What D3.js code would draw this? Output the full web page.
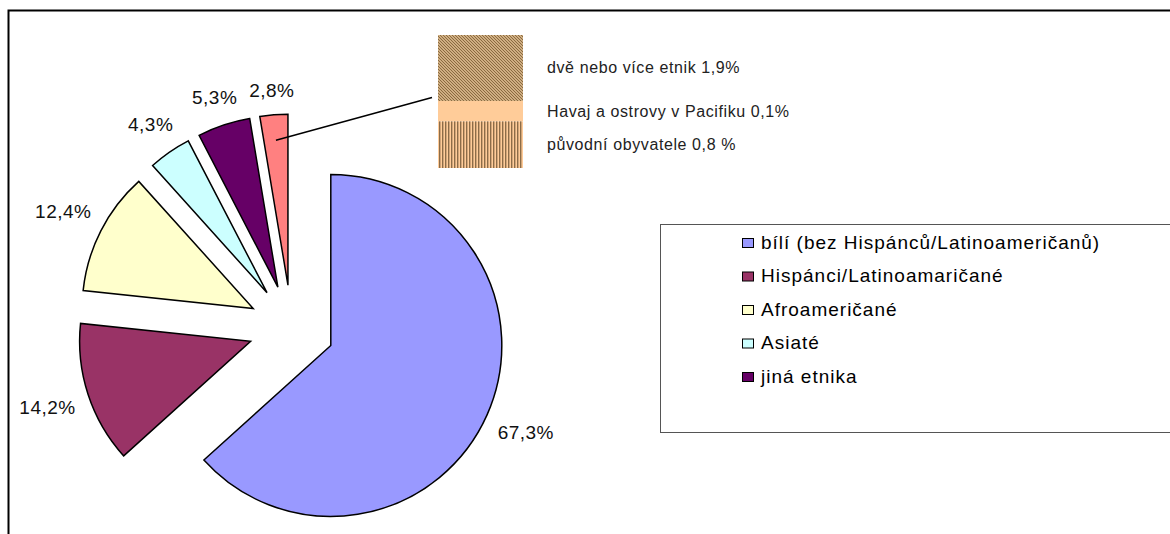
<!DOCTYPE html>
<html>
<head>
<meta charset="utf-8">
<script src="https://cdn.jsdelivr.net/npm/d3@7"></script>
<style>
  html, body { margin: 0; padding: 0; background: #fff; }
  svg { display: block; font-family: "Liberation Sans", Arial, sans-serif; }
</style>
</head>
<body>
<svg id="chart" width="1170" height="534"></svg>
<script>
// pie slices, clockwise from 12 o'clock (labels sum to more than 100, the pie normalises)
var sliceNames = ['bílí (bez Hispánců/Latinoameričanů)', 'Hispánci/Latinoamaričané', 'Afroameričané', 'Asiaté', 'jiná etnika', 'ostatní'];
var sliceValues = [67.3, 14.2, 12.4, 4.3, 5.3, 2.8];
var sliceLabels = ['67,3%', '14,2%', '12,4%', '4,3%', '5,3%', '2,8%'];
var sliceColors = ['#9999ff', '#993366', '#ffffcc', '#ccffff', '#660066', '#ff8080'];

// breakdown of the last slice, shown as a stacked bar
var barNames = ['dvě nebo více etnik 1,9%', 'Havaj a ostrovy v Pacifiku 0,1%', 'původní obyvatele 0,8 %'];
var barValues = [1.9, 0.1, 0.8];
var barFills = ['url(#diag)', '#ffcc99', 'url(#vert)'];

var legendCount = 5;

var svg = d3.select('#chart');
var W = 1170, H = 534;

// ---- patterns
var defs = svg.append('defs');
var diag = defs.append('pattern').attr('id', 'diag')
    .attr('patternUnits', 'userSpaceOnUse').attr('width', 3).attr('height', 3);
diag.append('rect').attr('width', 3).attr('height', 3).attr('fill', '#cfae82');
diag.append('path').attr('d', 'M-1,-1L4,4M-1,2L1,4M2,-1L4,1')
    .attr('stroke', '#8a6a40').attr('stroke-width', 1);

var vert = defs.append('pattern').attr('id', 'vert')
    .attr('patternUnits', 'userSpaceOnUse').attr('width', 3).attr('height', 3);
vert.append('rect').attr('width', 3).attr('height', 3).attr('fill', '#ffcc99');
vert.append('rect').attr('x', 1).attr('width', 1.4).attr('height', 3).attr('fill', '#8c6c48');

// ---- frame
svg.append('path')
    .attr('d', 'M8.5,' + H + 'V10.5H' + W)
    .attr('fill', 'none').attr('stroke', '#000').attr('stroke-width', 2);

// ---- pie
var cx = 291.5, cy = 328, R = 171, explode = 43, labelGap = 13;

var pie = d3.pie().sort(null).value(function(d) { return d; });
var arcs = pie(sliceValues);
var arc = d3.arc().innerRadius(0).outerRadius(R);

function dir(a) {
    var m = (a.startAngle + a.endAngle) / 2;
    return [Math.sin(m), -Math.cos(m)];
}

var gPie = svg.append('g').attr('transform', 'translate(' + cx + ',' + cy + ')');

gPie.selectAll('path.slice')
    .data(arcs)
    .join('path')
    .attr('class', 'slice')
    .attr('transform', function(d) { var u = dir(d); return 'translate(' + (u[0] * explode) + ',' + (u[1] * explode) + ')'; })
    .attr('d', arc)
    .attr('fill', function(d, i) { return sliceColors[i]; })
    .attr('stroke', '#000')
    .attr('stroke-width', 1.5)
    .attr('stroke-linejoin', 'miter');

gPie.selectAll('text.pct')
    .data(arcs)
    .join('text')
    .attr('class', 'pct')
    .attr('font-size', 19)
    .attr('letter-spacing', 0.5)
    .attr('fill', '#111')
    .attr('text-anchor', 'middle')
    .attr('dominant-baseline', 'central')
    .text(function(d, i) { return sliceLabels[i]; })
    .each(function(d) {
        var u = dir(d);
        var w = this.getComputedTextLength();
        var ext = Math.abs(u[0]) * w / 2 + Math.abs(u[1]) * 9;
        var rr = explode + R + labelGap + ext;
        d3.select(this).attr('x', u[0] * rr).attr('y', u[1] * rr);
    });

// ---- stacked bar of the "other" slice
var barX = 438, barW = 85, barTop = 35, barH = 133;
var seg = d3.scalePow().exponent(0.4).domain([0, 1]).range([0, 1]);
var segSizes = barValues.map(function(v) { return seg(v); });
var segTotal = d3.sum(segSizes);
var y = d3.scaleLinear().domain([0, segTotal]).range([barTop, barTop + barH]);
var acc = 0;
var segs = segSizes.map(function(s, i) {
    var o = { i: i, y0: acc, y1: acc + s };
    acc += s;
    return o;
});

var gBar = svg.append('g');
gBar.selectAll('rect')
    .data(segs)
    .join('rect')
    .attr('x', barX)
    .attr('width', barW)
    .attr('y', function(d) { return y(d.y0); })
    .attr('height', function(d) { return y(d.y1) - y(d.y0); })
    .attr('fill', function(d) { return barFills[d.i]; });

gBar.selectAll('text')
    .data(segs)
    .join('text')
    .attr('x', 547)
    .attr('y', function(d) { return (y(d.y0) + y(d.y1)) / 2; })
    .attr('dominant-baseline', 'central')
    .attr('font-size', 16)
    .attr('letter-spacing', 0.6)
    .attr('fill', '#222')
    .text(function(d) { return barNames[d.i]; });

// leader line from the last slice to the bar
var last = arcs[arcs.length - 1];
var lu = dir(last);
var lr = explode + R * 0.85;
svg.append('line')
    .attr('x1', cx + lu[0] * lr).attr('y1', cy + lu[1] * lr)
    .attr('x2', barX - 6).attr('y2', barTop + barH * 0.47)
    .attr('stroke', '#000').attr('stroke-width', 1.5);

// ---- legend
var lgX = 660.5, lgY = 224.5, lgH = 208;
svg.append('rect')
    .attr('x', lgX).attr('y', lgY).attr('width', W - lgX + 5).attr('height', lgH)
    .attr('fill', '#fff').attr('stroke', '#555').attr('stroke-width', 1);

var ly = d3.scalePoint().domain(d3.range(legendCount)).range([242, 376]);
var items = svg.append('g').selectAll('g')
    .data(d3.range(legendCount))
    .join('g')
    .attr('transform', function(i) { return 'translate(742,' + ly(i) + ')'; });

items.append('rect')
    .attr('x', 0.5).attr('y', -3.5).attr('width', 11).attr('height', 9)
    .attr('fill', function(i) { return sliceColors[i]; })
    .attr('stroke', '#000').attr('stroke-width', 1);

items.append('text')
    .attr('x', 19).attr('y', 0)
    .attr('dominant-baseline', 'central')
    .attr('font-size', 19)
    .attr('letter-spacing', 1)
    .attr('fill', '#000')
    .text(function(i) { return sliceNames[i]; });
</script>
</body>
</html>
